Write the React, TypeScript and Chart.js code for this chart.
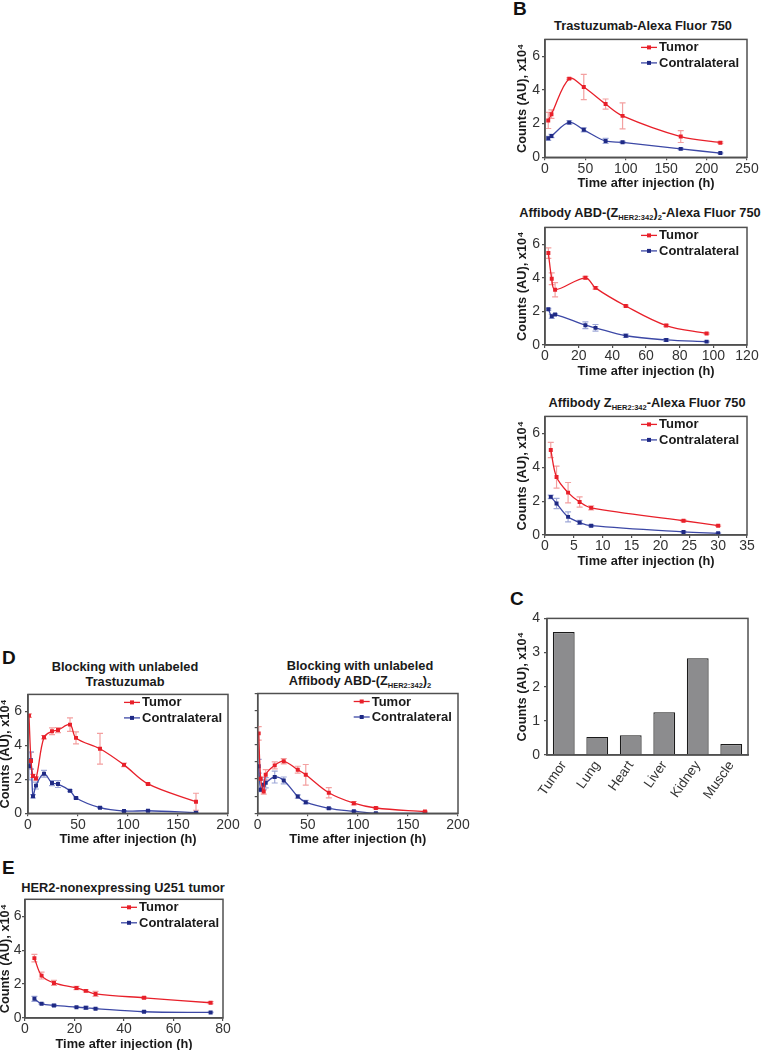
import React, { useEffect, useRef } from 'react';
import { Chart, registerables } from 'chart.js';
Chart.register(...registerables);

const FONT = '"Liberation Sans", Arial, Helvetica, sans-serif';
const RED = '#e8202a';
const RED_ERR = '#f3a0a0';
const BLUE = '#3c48a6';
const BLUE_MARK = '#1f2a85';
const BLUE_ERR = '#9ea8d8';
const AXIS = '#505050';
const TICK_COLOR = '#333333';
const TEXT = '#1a1a1a';
const BOLD = 12.8;

const X_TITLE = 'Time after injection (h)';
const Y_TITLE = 'Counts (AU), x10⁴';
const LEGEND_LABELS = ['Tumor', 'Contralateral'];

// Panel B (top): Trastuzumab-Alexa Fluor 750
const b1Time = [4, 8, 30, 48, 75, 96, 168, 217];
const b1Tumor = [2.19, 2.56, 4.67, 4.17, 3.16, 2.46, 1.23, 0.87];
const b1TumorErr = [0.48, 0.25, 0.05, 0.75, 0.3, 0.77, 0.35, 0.05];
const b1Contra = [1.13, 1.27, 2.07, 1.63, 0.97, 0.89, 0.5, 0.25];
const b1ContraErr = [0.12, 0.1, 0.1, 0.12, 0.15, 0.05, 0.05, 0.03];

// Panel B (middle): Affibody ABD-(Z)2-Alexa Fluor 750
const b2Time = [2, 4, 6, 24, 30, 48, 72, 96];
const b2Tumor = [5.47, 3.94, 3.29, 4.0, 3.4, 2.32, 1.16, 0.69];
const b2TumorErr = [0.31, 0.35, 0.42, 0.08, 0.08, 0.05, 0.07, 0.04];
const b2Contra = [2.13, 1.71, 1.81, 1.18, 1.02, 0.55, 0.3, 0.2];
const b2ContraErr = [0.05, 0.12, 0.05, 0.2, 0.2, 0.1, 0.08, 0.03];

// Panel B (bottom): Affibody Z-Alexa Fluor 750
const b3Time = [1, 2, 4, 6, 8, 24, 30];
const b3Tumor = [5.02, 3.42, 2.5, 1.95, 1.6, 0.84, 0.55];
const b3TumorErr = [0.45, 0.65, 0.6, 0.3, 0.12, 0.05, 0.04];
const b3Contra = [2.25, 1.86, 1.07, 0.74, 0.55, 0.18, 0.1];
const b3ContraErr = [0.1, 0.3, 0.3, 0.12, 0.05, 0.04, 0.03];

// Panel C
const cOrgans = ['Tumor', 'Lung', 'Heart', 'Liver', 'Kidney', 'Muscle'];
const cCounts = [3.6, 0.53, 0.58, 1.25, 2.83, 0.32];

// Panel D (left): blocking with trastuzumab
const dlTime = [1, 3, 5, 8, 16, 24, 30, 42, 48, 72, 96, 120, 168];
const dlTumor = [5.75, 3.08, 2.2, 2.05, 4.48, 4.83, 4.9, 5.22, 4.44, 3.8, 2.85, 1.73, 0.68];
const dlTumorErr = [0.1, 0.5, 0.1, 0.1, 0.1, 0.2, 0.15, 0.4, 0.35, 0.9, 0.1, 0.05, 0.5];
const dlContra = [2.77, 3.12, 1.0, 1.63, 2.33, 1.78, 1.72, 1.33, 0.9, 0.33, 0.13, 0.15, 0.04];
const dlContraErr = [0.8, 0.5, 0.1, 0.2, 0.2, 0.15, 0.2, 0.05, 0.05, 0.03, 0.03, 0.03, 0.03];

// Panel D (right): blocking with affibody
const drTime = [1, 3, 6, 8, 17, 26, 40, 48, 71, 96, 118, 167];
const drTumor = [4.67, 2.02, 1.27, 2.25, 2.8, 3.04, 2.55, 2.25, 1.2, 0.59, 0.31, 0.1];
const drTumorErr = [0.4, 0.1, 0.15, 0.3, 0.2, 0.15, 0.2, 0.6, 0.3, 0.1, 0.05, 0.03];
const drContra = [2.75, 1.37, 1.67, 1.78, 2.12, 1.92, 0.98, 0.65, 0.29, 0.12, 0.0, 0.0];
const drContraErr = [0.4, 0.1, 0.3, 0.3, 0.35, 0.2, 0.1, 0.1, 0.05, 0.03, 0.02, 0.02];

// Panel E: HER2-nonexpressing U251 tumor
const eTime = [3.8, 6.7, 11.7, 20.8, 24.6, 28.5, 48.1, 75];
const eTumor = [3.53, 2.5, 2.07, 1.77, 1.6, 1.42, 1.19, 0.9];
const eTumorErr = [0.22, 0.2, 0.15, 0.1, 0.06, 0.15, 0.05, 0.06];
const eContra = [1.13, 0.84, 0.74, 0.64, 0.6, 0.55, 0.37, 0.33];
const eContraErr = [0.15, 0.04, 0.06, 0.03, 0.08, 0.03, 0.03, 0.02];

type LineSpec = {
  left: number; top: number; right: number; bottom: number;
  yW: number; yTitleX: number | null; yTickPad: number; showYLabels: boolean;
  xMax: number; xStep: number;
  times: number[]; tumor: number[]; tumorErr: number[]; contra: number[]; contraErr: number[];
};

const errorBarPlugin = {
  id: 'errorBars',
  beforeDatasetsDraw(chart: any) {
    const { ctx, chartArea, scales } = chart;
    ctx.save();
    ctx.beginPath();
    ctx.rect(chartArea.left, chartArea.top, chartArea.right - chartArea.left, chartArea.bottom - chartArea.top);
    ctx.clip();
    chart.data.datasets.forEach((ds: any) => {
      const errs = ds.errors;
      if (!errs) return;
      ctx.strokeStyle = ds.errorColor;
      ctx.lineWidth = 1.2;
      ds.data.forEach((p: any, i: number) => {
        const e = errs[i];
        if (!e) return;
        const x = scales.x.getPixelForValue(p.x);
        const y1 = scales.y.getPixelForValue(p.y + e);
        const y2 = scales.y.getPixelForValue(p.y - e);
        ctx.beginPath();
        ctx.moveTo(x, y1); ctx.lineTo(x, y2);
        ctx.moveTo(x - 3, y1); ctx.lineTo(x + 3, y1);
        ctx.moveTo(x - 3, y2); ctx.lineTo(x + 3, y2);
        ctx.stroke();
      });
    });
    ctx.restore();
  },
};

const boxPlugin = {
  id: 'plotBox',
  afterDraw(chart: any) {
    const { ctx, chartArea } = chart;
    ctx.save();
    ctx.strokeStyle = AXIS;
    ctx.lineWidth = 1.5;
    ctx.strokeRect(chartArea.left, chartArea.top, chartArea.right - chartArea.left, chartArea.bottom - chartArea.top);
    ctx.restore();
  },
};

const legendPlugin = {
  id: 'insetLegend',
  afterDraw(chart: any) {
    const { ctx, chartArea } = chart;
    const cols = [[RED, RED], [BLUE, BLUE_MARK]];
    ctx.save();
    LEGEND_LABELS.forEach((label, k) => {
      const y = chartArea.top + 8 + k * 15.5;
      const x0 = chartArea.left + 96;
      ctx.strokeStyle = cols[k][0];
      ctx.lineWidth = 1.3;
      ctx.beginPath();
      ctx.moveTo(x0, y);
      ctx.lineTo(x0 + 16, y);
      ctx.stroke();
      ctx.fillStyle = cols[k][1];
      ctx.fillRect(x0 + 6, y - 2, 4, 4);
      ctx.fillStyle = TEXT;
      ctx.font = `bold 13px ${FONT}`;
      ctx.textBaseline = 'middle';
      ctx.textAlign = 'left';
      ctx.fillText(label, x0 + 18, y + 0.5);
    });
    ctx.restore();
  },
};

function axisCommon() {
  return {
    grid: { drawOnChartArea: false, drawTicks: true, tickLength: 3, color: AXIS, lineWidth: 1.2 },
    border: { display: true, color: AXIS, width: 1.5 },
  };
}

function LineChartPanel({ spec }: { spec: LineSpec }) {
  const ref = useRef<HTMLCanvasElement>(null);
  const cLeft = Math.round(spec.left - spec.yW);
  const cTop = Math.floor(spec.top - 10);
  const yW = spec.left - cLeft;
  const padTop = spec.top - cTop;
  const cW = Math.round(spec.right + 16 - cLeft);
  const cH = Math.round(spec.bottom + 34 - cTop);
  const padRight = cW - (spec.right - cLeft);
  const xH = cH - (spec.bottom - cTop);
  const titleLH = BOLD * 1.2;
  const yTitlePad = spec.yTitleX != null ? spec.yTitleX - cLeft - titleLH / 2 : 0;

  useEffect(() => {
    if (!ref.current) return;
    const chart = new Chart(ref.current, {
      type: 'line',
      data: {
        datasets: [
          {
            label: LEGEND_LABELS[0],
            data: spec.times.map((t, i) => ({ x: t, y: spec.tumor[i] })),
            borderColor: RED, backgroundColor: RED, pointBackgroundColor: RED,
            pointBorderWidth: 0, pointStyle: 'rect', pointRadius: 2.8, borderWidth: 1.3, tension: 0.35,
            errors: spec.tumorErr, errorColor: RED_ERR,
          } as any,
          {
            label: LEGEND_LABELS[1],
            data: spec.times.map((t, i) => ({ x: t, y: spec.contra[i] })),
            borderColor: BLUE, backgroundColor: BLUE_MARK, pointBackgroundColor: BLUE_MARK,
            pointBorderWidth: 0, pointStyle: 'rect', pointRadius: 2.8, borderWidth: 1.3, tension: 0.35,
            errors: spec.contraErr, errorColor: BLUE_ERR,
          } as any,
        ],
      },
      options: {
        responsive: false,
        animation: false,
        layout: { padding: { left: 0, top: padTop, right: padRight, bottom: 0 } },
        plugins: { legend: { display: false }, tooltip: { enabled: false } },
        scales: {
          x: {
            type: 'linear', min: 0, max: spec.xMax,
            ticks: { stepSize: spec.xStep, color: TICK_COLOR, font: { family: FONT, size: 14 }, padding: 0, maxRotation: 0, autoSkip: false },
            ...axisCommon(),
            title: { display: true, text: X_TITLE, color: TEXT, font: { family: FONT, size: BOLD, weight: 'bold' }, padding: 0 },
            afterFit: (s: any) => { s.height = xH; },
          },
          y: {
            min: 0, max: 7,
            ticks: {
              stepSize: 1, display: spec.showYLabels, color: TICK_COLOR, font: { family: FONT, size: 14 },
              padding: spec.yTickPad, callback: (v: any) => (Number(v) % 2 === 0 ? String(v) : ''),
            },
            ...axisCommon(),
            title: spec.yTitleX != null
              ? { display: true, text: Y_TITLE, color: TEXT, font: { family: FONT, size: BOLD, weight: 'bold' }, padding: { top: yTitlePad, bottom: 0 } }
              : { display: false },
            afterFit: (s: any) => { s.width = yW; },
          },
        } as any,
      },
      plugins: [errorBarPlugin, boxPlugin, legendPlugin],
    } as any);
    return () => chart.destroy();
  }, []);

  return (
    <canvas
      ref={ref}
      width={cW}
      height={cH}
      style={{ position: 'absolute', left: cLeft, top: cTop, width: cW, height: cH }}
    />
  );
}

function BarChartPanel() {
  const ref = useRef<HTMLCanvasElement>(null);
  const left = 547, top = 616, right = 748, bottom = 755;
  const cLeft = 505, cTop = 606;
  const cW = Math.round(right + 16 - cLeft);
  const cH = 50 + bottom - cTop;
  const yW = left - cLeft;
  const padTop = top - cTop;
  const padRight = cW - (right - cLeft);
  const xH = cH - (bottom - cTop);
  const yTitlePad = 522 - cLeft - (BOLD * 1.2) / 2;

  useEffect(() => {
    if (!ref.current) return;
    const chart = new Chart(ref.current, {
      type: 'bar',
      data: {
        labels: cOrgans,
        datasets: [
          {
            data: cCounts,
            backgroundColor: '#8c8c8e',
            borderColor: '#1a1a1a',
            borderWidth: 1.2,
            barPercentage: 0.65,
            categoryPercentage: 1,
          },
        ],
      },
      options: {
        responsive: false,
        animation: false,
        layout: { padding: { left: 0, top: padTop, right: padRight, bottom: 0 } },
        plugins: { legend: { display: false }, tooltip: { enabled: false } },
        scales: {
          x: {
            ticks: { color: TICK_COLOR, font: { family: FONT, size: 13.5 }, minRotation: 55, maxRotation: 55, padding: 3, autoSkip: false },
            grid: { drawOnChartArea: false, drawTicks: false },
            border: { display: true, color: AXIS, width: 1.5 },
            afterFit: (s: any) => { s.height = xH; },
          },
          y: {
            min: 0, max: 4,
            ticks: { stepSize: 1, color: TICK_COLOR, font: { family: FONT, size: 14 }, padding: 4 },
            ...axisCommon(),
            title: { display: true, text: Y_TITLE, color: TEXT, font: { family: FONT, size: BOLD, weight: 'bold' }, padding: { top: yTitlePad, bottom: 0 } },
            afterFit: (s: any) => { s.width = yW; },
          },
        } as any,
      },
      plugins: [boxPlugin],
    } as any);
    return () => chart.destroy();
  }, []);

  return (
    <canvas
      ref={ref}
      width={cW}
      height={cH}
      style={{ position: 'absolute', left: cLeft, top: cTop, width: cW, height: cH }}
    />
  );
}

const SUB: React.CSSProperties = { fontSize: '7.5px', position: 'relative', top: '3px' };

function Title({ x, y, children }: { x: number; y: number; children: React.ReactNode }) {
  return (
    <div
      style={{
        position: 'absolute', left: x, top: y, transform: 'translate(-50%, -50%)',
        whiteSpace: 'nowrap', font: `bold ${BOLD}px ${FONT}`, lineHeight: '15px', color: TEXT, textAlign: 'center',
      }}
    >
      {children}
    </div>
  );
}

function Letter({ x, y, t }: { x: number; y: number; t: string }) {
  return (
    <div style={{ position: 'absolute', left: x, top: y, font: `bold 19px ${FONT}`, lineHeight: '19px', color: '#111' }}>{t}</div>
  );
}

const specB1: LineSpec = { left: 545, top: 39.3, right: 747, bottom: 157.3, yW: 40, yTitleX: 522, yTickPad: 2, showYLabels: true, xMax: 250, xStep: 50, times: b1Time, tumor: b1Tumor, tumorErr: b1TumorErr, contra: b1Contra, contraErr: b1ContraErr };
const specB2: LineSpec = { left: 545, top: 227, right: 747, bottom: 345, yW: 40, yTitleX: 522, yTickPad: 2, showYLabels: true, xMax: 120, xStep: 20, times: b2Time, tumor: b2Tumor, tumorErr: b2TumorErr, contra: b2Contra, contraErr: b2ContraErr };
const specB3: LineSpec = { left: 545, top: 416, right: 747, bottom: 535, yW: 40, yTitleX: 522, yTickPad: 2, showYLabels: true, xMax: 35, xStep: 5, times: b3Time, tumor: b3Tumor, tumorErr: b3TumorErr, contra: b3Contra, contraErr: b3ContraErr };
const specDL: LineSpec = { left: 28, top: 693.5, right: 228, bottom: 813.3, yW: 31, yTitleX: 5, yTickPad: 3, showYLabels: true, xMax: 200, xStep: 50, times: dlTime, tumor: dlTumor, tumorErr: dlTumorErr, contra: dlContra, contraErr: dlContraErr };
const specDR: LineSpec = { left: 257.7, top: 693.5, right: 458, bottom: 813.3, yW: 12, yTitleX: null, yTickPad: 2, showYLabels: false, xMax: 200, xStep: 50, times: drTime, tumor: drTumor, tumorErr: drTumorErr, contra: drContra, contraErr: drContraErr };
const specE: LineSpec = { left: 25, top: 899.3, right: 223, bottom: 1018, yW: 28, yTitleX: 5, yTickPad: 0.5, showYLabels: true, xMax: 80, xStep: 20, times: eTime, tumor: eTumor, tumorErr: eTumorErr, contra: eContra, contraErr: eContraErr };

export default function App() {
  return (
    <div style={{ position: 'absolute', left: 0, top: 0, width: 767, height: 1050, background: '#fff', overflow: 'hidden', fontFamily: FONT }}>
      <Letter x={513} y={-1} t="B" />
      <Title x={643} y={25}>Trastuzumab-Alexa Fluor 750</Title>
      <LineChartPanel spec={specB1} />
      <Title x={640} y={213.3}>
        Affibody ABD-(Z<span style={SUB}>HER2:342</span>)<span style={SUB}>2</span>-Alexa Fluor 750
      </Title>
      <LineChartPanel spec={specB2} />
      <Title x={647} y={403.3}>
        Affibody Z<span style={SUB}>HER2:342</span>-Alexa Fluor 750
      </Title>
      <LineChartPanel spec={specB3} />

      <Letter x={510} y={589} t="C" />
      <BarChartPanel />

      <Letter x={2} y={647.5} t="D" />
      <Title x={125} y={674.2}>
        Blocking with unlabeled
        <br />
        Trastuzumab
      </Title>
      <LineChartPanel spec={specDL} />
      <Title x={360} y={674.2}>
        Blocking with unlabeled
        <br />
        Affibody ABD-(Z<span style={SUB}>HER2:342</span>)<span style={SUB}>2</span>
      </Title>
      <LineChartPanel spec={specDR} />

      <Letter x={2} y={857.5} t="E" />
      <Title x={123} y={886.7}>HER2-nonexpressing U251 tumor</Title>
      <LineChartPanel spec={specE} />
    </div>
  );
}
